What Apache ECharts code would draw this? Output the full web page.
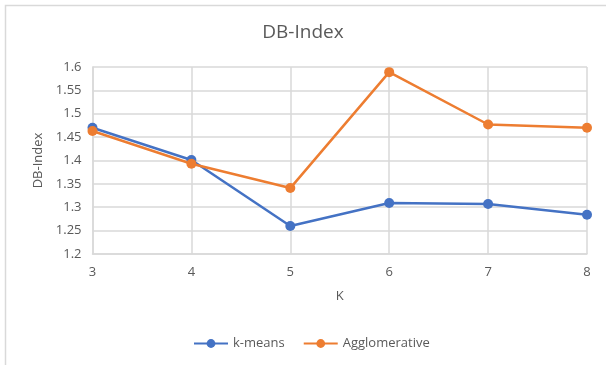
<!DOCTYPE html>
<html>
<head>
<meta charset="utf-8">
<script src="https://cdn.jsdelivr.net/npm/echarts@6/dist/echarts.min.js"></script>
<style>
  html, body { margin: 0; padding: 0; background: #fff; }
  #chart { width: 606px; height: 365px; }
</style>
</head>
<body>
<div id="chart"></div>
<script>
// Cluster counts and Davies-Bouldin scores per method
const kValues = ['3', '4', '5', '6', '7', '8'];
const kMeans = [1.470, 1.401, 1.260, 1.309, 1.307, 1.284];
const agglomerative = [1.463, 1.393, 1.341, 1.589, 1.477, 1.470];
const yTicks = { min: 1.2, max: 1.6, step: 0.05 };

const textColor = '#595959';
const gridColor = '#d9d9d9';
const font = 'Open Sans, Noto Sans, sans-serif';

const chart = echarts.init(document.getElementById('chart'), null, { renderer: 'canvas' });
chart.setOption({
  animation: false,
  backgroundColor: '#fff',
  textStyle: { fontFamily: font },
  graphic: [{
    type: 'rect',
    shape: { x: 5.5, y: 5.5, width: 700, height: 500 },
    style: { fill: 'none', stroke: gridColor, lineWidth: 1.5 },
    silent: true
  }],
  title: {
    text: 'DB-Index',
    left: 'center',
    top: 18,
    textStyle: { color: textColor, fontSize: 19, fontWeight: 'normal', fontFamily: font }
  },
  grid: { left: 92.5, right: 19, top: 67, bottom: 111, containLabel: false },
  legend: {
    bottom: 10,
    left: 188,
    itemWidth: 34,
    itemHeight: 11,
    itemGap: 18,
    textStyle: { color: textColor, fontSize: 13, fontFamily: font },
    data: ['k-means', 'Agglomerative']
  },
  xAxis: {
    type: 'category',
    data: kValues,
    boundaryGap: false,
    name: 'K',
    nameLocation: 'middle',
    nameGap: 36,
    nameTextStyle: { color: textColor, fontSize: 13, fontFamily: font },
    axisLine: { lineStyle: { color: gridColor, width: 1.5 } },
    axisTick: { show: false },
    axisLabel: { color: textColor, fontSize: 13, margin: 12, fontFamily: font },
    splitLine: { show: true, lineStyle: { color: gridColor, width: 1.5 } }
  },
  yAxis: {
    type: 'value',
    min: yTicks.min,
    max: yTicks.max,
    interval: yTicks.step,
    name: 'DB-Index',
    nameLocation: 'middle',
    nameGap: 47,
    nameTextStyle: { color: textColor, fontSize: 13, fontFamily: font },
    axisLine: { show: true, lineStyle: { color: gridColor, width: 1.5 } },
    axisTick: { show: false },
    axisLabel: {
      color: textColor, fontSize: 13, margin: 11, fontFamily: font,
      formatter: v => String(+v.toFixed(2))
    },
    splitLine: { show: true, lineStyle: { color: gridColor, width: 1.5 } }
  },
  series: [
    {
      name: 'k-means',
      type: 'line',
      data: kMeans,
      color: '#4472C4',
      symbol: 'circle',
      symbolSize: 10,
      lineStyle: { width: 2.5 },
      z: 3
    },
    {
      name: 'Agglomerative',
      type: 'line',
      data: agglomerative,
      color: '#ED7D31',
      symbol: 'circle',
      symbolSize: 10,
      lineStyle: { width: 2.5 },
      z: 4
    }
  ]
});
</script>
</body>
</html>
